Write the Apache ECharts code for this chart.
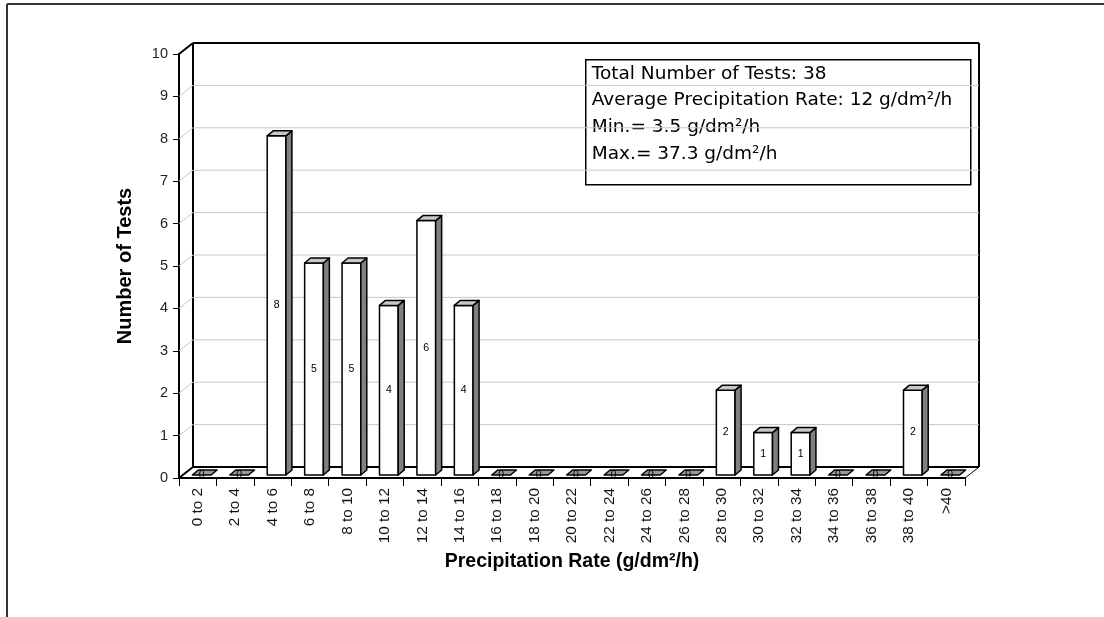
<!DOCTYPE html>
<html>
<head>
<meta charset="utf-8">
<script src="https://cdn.jsdelivr.net/npm/echarts@6/dist/echarts.min.js"></script>
<style>
  html, body { margin: 0; padding: 0; background: #fff; }
  #chart { width: 1104px; height: 617px; }
</style>
</head>
<body>
<div id="chart"></div>
<script>
// Histogram of precipitation rates
const categories = ['0 to 2', '2 to 4', '4 to 6', '6 to 8', '8 to 10', '10 to 12', '12 to 14',
  '14 to 16', '16 to 18', '18 to 20', '20 to 22', '22 to 24', '24 to 26', '26 to 28',
  '28 to 30', '30 to 32', '32 to 34', '34 to 36', '36 to 38', '38 to 40', '>40'];
const testCounts = [0, 0, 8, 5, 5, 4, 6, 4, 0, 0, 0, 0, 0, 0, 2, 1, 1, 0, 0, 2, 0];
const yTicks = [0, 1, 2, 3, 4, 5, 6, 7, 8, 9, 10];
const summaryLines = [
  'Total Number of Tests: 38',
  'Average Precipitation Rate: 12 g/dm²/h',
  'Min.= 3.5 g/dm²/h',
  'Max.= 37.3 g/dm²/h'
];

const FONT = '"Liberation Sans", Arial, Helvetica, sans-serif';
const WIDE_FONT = '"DejaVu Sans", Verdana, sans-serif';

// pseudo-3D depth of the plot box (back wall offset)
const DX = 14, DY = -11;
// front plane of the columns and the columns' own depth
const FX = 4, FY = -3;
const BX = 6, BY = -5;

const chart = echarts.init(document.getElementById('chart'), null, { renderer: 'canvas' });

function wallItem(params, api) {
  const cs = params.coordSys;
  const v = api.value(0);
  const y = api.coord([0, v])[1];
  const x0 = cs.x, x1 = cs.x + cs.width;
  const edge = (v === yTicks[0] || v === yTicks[yTicks.length - 1]);
  const style = edge ? { stroke: '#000', lineWidth: 2 } : { stroke: '#c8c8c8', lineWidth: 1 };
  const children = [
    { type: 'line', shape: { x1: x0, y1: y, x2: x0 + DX, y2: y + DY }, style: style },
    { type: 'line', shape: { x1: x0 + DX, y1: y + DY, x2: x1 + DX, y2: y + DY }, style: style }
  ];
  if (v === yTicks[0]) {
    const yTop = cs.y;
    children.push(
      { type: 'line', shape: { x1: x0 + DX, y1: yTop + DY, x2: x0 + DX, y2: y + DY }, style: { stroke: '#000', lineWidth: 2 } },
      { type: 'line', shape: { x1: x1 + DX, y1: yTop + DY, x2: x1 + DX, y2: y + DY }, style: { stroke: '#000', lineWidth: 2 } },
      { type: 'line', shape: { x1: x1, y1: y, x2: x1 + DX, y2: y + DY }, style: { stroke: '#000', lineWidth: 1 } }
    );
  }
  return { type: 'group', children: children };
}

function barItem(params, api) {
  const cat = api.value(0);
  const v = api.value(1);
  const base = api.coord([cat, 0]);
  const top = api.coord([cat, v]);
  const bw = api.size([1, 0])[0] * 0.5;
  const xl = base[0] - bw / 2 + FX;
  const xr = xl + bw;
  const yb = base[1] + FY;
  const yt = top[1] + FY;
  const line = { stroke: '#000', lineWidth: 1.5, lineJoin: 'round' };
  const children = [];
  if (v > 0) {
    children.push({
      type: 'rect', shape: { x: xl, y: yt, width: bw, height: yb - yt },
      style: Object.assign({ fill: '#fff' }, line)
    });
    children.push({
      type: 'polygon',
      shape: { points: [[xr, yt], [xr + BX, yt + BY], [xr + BX, yb + BY], [xr, yb]] },
      style: Object.assign({ fill: '#808080' }, line)
    });
    children.push({
      type: 'polygon',
      shape: { points: [[xl, yt], [xl + BX, yt + BY], [xr + BX, yt + BY], [xr, yt]] },
      style: Object.assign({ fill: '#c8c8c8' }, line)
    });
  } else {
    children.push({
      type: 'polygon',
      shape: { points: [[xl, yt], [xl + BX, yt + BY], [xr + BX, yt + BY], [xr, yt]] },
      style: Object.assign({ fill: '#9a9a9a' }, line)
    });
  }
  children.push({
    type: 'text',
    style: {
      x: (xl + xr) / 2, y: (yt + yb) / 2,
      text: String(v), fill: '#000',
      font: '10.5px ' + FONT, align: 'center', verticalAlign: 'middle'
    }
  });
  return { type: 'group', children: children };
}

const option = {
  backgroundColor: '#fff',
  animation: false,
  grid: { left: 179, right: 139, top: 54, bottom: 139, containLabel: false },
  xAxis: {
    type: 'category',
    data: categories,
    boundaryGap: true,
    axisLine: { show: true, lineStyle: { color: '#000', width: 2 } },
    axisTick: { show: true, interval: 0, length: 8, lineStyle: { color: '#000', width: 1 } },
    axisLabel: { interval: 0, rotate: 90, fontSize: 15.3, color: '#111', fontFamily: FONT, margin: 10 },
    splitLine: { show: false },
    name: 'Precipitation Rate (g/dm²/h)',
    nameLocation: 'middle',
    nameGap: 74,
    nameTextStyle: { fontSize: 19.5, fontWeight: 'bold', color: '#000', fontFamily: FONT }
  },
  yAxis: {
    type: 'value',
    min: 0, max: 10, interval: 1,
    axisLine: { show: true, lineStyle: { color: '#000', width: 2 } },
    axisTick: { show: true, length: 6, lineStyle: { color: '#000', width: 1 } },
    axisLabel: { fontSize: 14.5, color: '#222', fontFamily: FONT, margin: 11 },
    splitLine: { show: false },
    name: 'Number of Tests',
    nameLocation: 'middle',
    nameRotate: 90,
    nameGap: 44,
    nameTextStyle: { fontSize: 20, fontWeight: 'bold', color: '#000', fontFamily: FONT }
  },
  series: [
    {
      type: 'custom',
      name: 'walls',
      z: 1,
      silent: true,
      clip: false,
      renderItem: wallItem,
      data: yTicks.map(t => [t])
    },
    {
      type: 'custom',
      name: 'Number of Tests',
      z: 3,
      clip: false,
      renderItem: barItem,
      encode: { x: 0, y: 1 },
      data: testCounts.map((c, i) => [i, c])
    }
  ],
  graphic: [
    { type: 'line', shape: { x1: 7, y1: 4, x2: 1104, y2: 4 }, style: { stroke: '#333', lineWidth: 2 }, z: 10 },
    { type: 'line', shape: { x1: 7, y1: 4, x2: 7, y2: 617 }, style: { stroke: '#333', lineWidth: 2 }, z: 10 },
    {
      type: 'group', left: 585, top: 59, z: 20,
      children: [
        { type: 'rect', shape: { x: 0, y: 0, width: 385, height: 125 }, style: { fill: '#fff', stroke: '#000', lineWidth: 1.5 } }
      ].concat(summaryLines.map((t, i) => ({
        type: 'text', x: 6, y: 14 + i * 26.7,
        style: { text: t, font: '18.5px ' + WIDE_FONT, fill: '#000', verticalAlign: 'middle' }
      })))
    }
  ]
};

chart.setOption(option);
</script>
</body>
</html>
